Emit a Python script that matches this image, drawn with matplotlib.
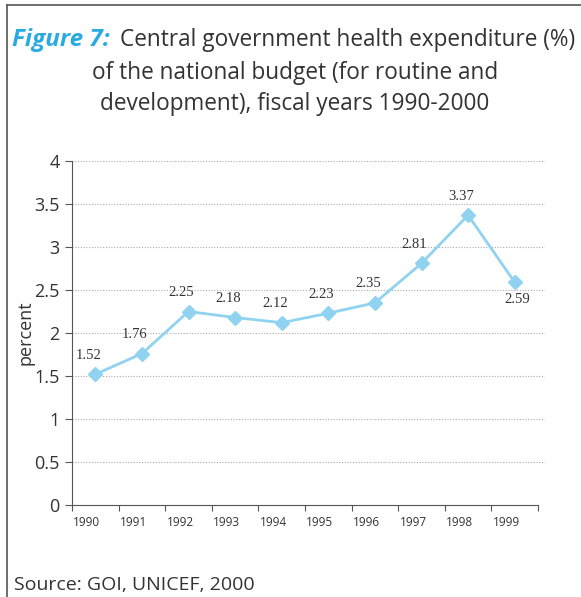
import matplotlib.pyplot as plt
from matplotlib.lines import Line2D
import numpy as np

years = ["1990", "1991", "1992", "1993", "1994", "1995", "1996", "1997", "1998", "1999"]
values = [1.52, 1.76, 2.25, 2.18, 2.12, 2.23, 2.35, 2.81, 3.37, 2.59]

plt.rcParams['font.family'] = ['Open Sans', 'DejaVu Sans']

line_col = '#8fd3f1'
text_col = '#333333'

fig = plt.figure(figsize=(5.81, 5.97), dpi=100)
ax = fig.add_axes([72/581, 1-505/597, (545-72)/581, (505-161)/597])

x = np.arange(len(values)) + 0.5
ax.plot(x, values, color=line_col, lw=2, marker='D', ms=7, mec=line_col, mfc=line_col)

for i, (xi, v) in enumerate(zip(x, values)):
    if i == len(values) - 1:
        ax.annotate(f"{v:.2f}", (xi, v), xytext=(2, -8), textcoords='offset points',
                    ha='center', va='top', fontsize=10.5, color=text_col, family='Liberation Serif')
    else:
        ax.annotate(f"{v:.2f}", (xi, v), xytext=(-5, 9), textcoords='offset points',
                    ha='center', va='bottom', fontsize=10.5, color=text_col, family='Liberation Serif')

ax.set_ylim(0, 4)
ax.set_xlim(0, 10.15)
ax.set_yticks(np.arange(0, 4.01, 0.5))
ax.set_yticklabels(["0", "0.5", "1", "1.5", "2", "2.5", "3", "3.5", "4"], fontsize=13, color=text_col)
ax.yaxis.grid(True, ls=(0, (1, 1.5)), color='#aaaaaa', lw=0.8)
ax.set_axisbelow(True)

ax.set_xticks(np.arange(0, 11))
ax.set_xticklabels([])
ax.set_xticks(np.arange(len(years)) + 0.32, minor=True)
ax.set_xticklabels(years, minor=True, fontsize=8.5, color=text_col)
ax.tick_params(axis='x', which='minor', length=0, pad=8)
ax.tick_params(axis='x', which='major', length=4, color='#555555')
ax.tick_params(axis='y', length=5, color='#555555', pad=4)

for s in ['top', 'right']:
    ax.spines[s].set_visible(False)
ax.spines['bottom'].set_bounds(0, 10)
ax.spines['left'].set_color('#555555')
ax.spines['bottom'].set_color('#555555')

ax.set_ylabel("percent", fontsize=13, color=text_col, labelpad=0)

# title
fig.text(12/581, 1-40/597, "Figure 7:", fontsize=17.5, fontweight='bold', fontstyle='italic',
         color='#29abe2', va='center', ha='left')
fig.text(120/581, 1-40/597, "Central government health expenditure (%)", fontsize=16.3,
         color=text_col, va='center', ha='left')
fig.text(295/581, 1-73/597, "of the national budget (for routine and", fontsize=16.3,
         color=text_col, va='center', ha='center')
fig.text(295/581, 1-104/597, "development), fiscal years 1990-2000", fontsize=16.3,
         color=text_col, va='center', ha='center')

fig.text(14/581, 1-585/597, "Source: GOI, UNICEF, 2000", fontsize=14, color=text_col,
         va='center', ha='left')

# frame lines
fig.add_artist(Line2D([7/581, 7/581], [0, 1-5/597], color='#555555', lw=1.2))
fig.add_artist(Line2D([7/581, 1], [1-5/597, 1-5/597], color='#555555', lw=1.2))

fig.savefig("out.png", dpi=100)
